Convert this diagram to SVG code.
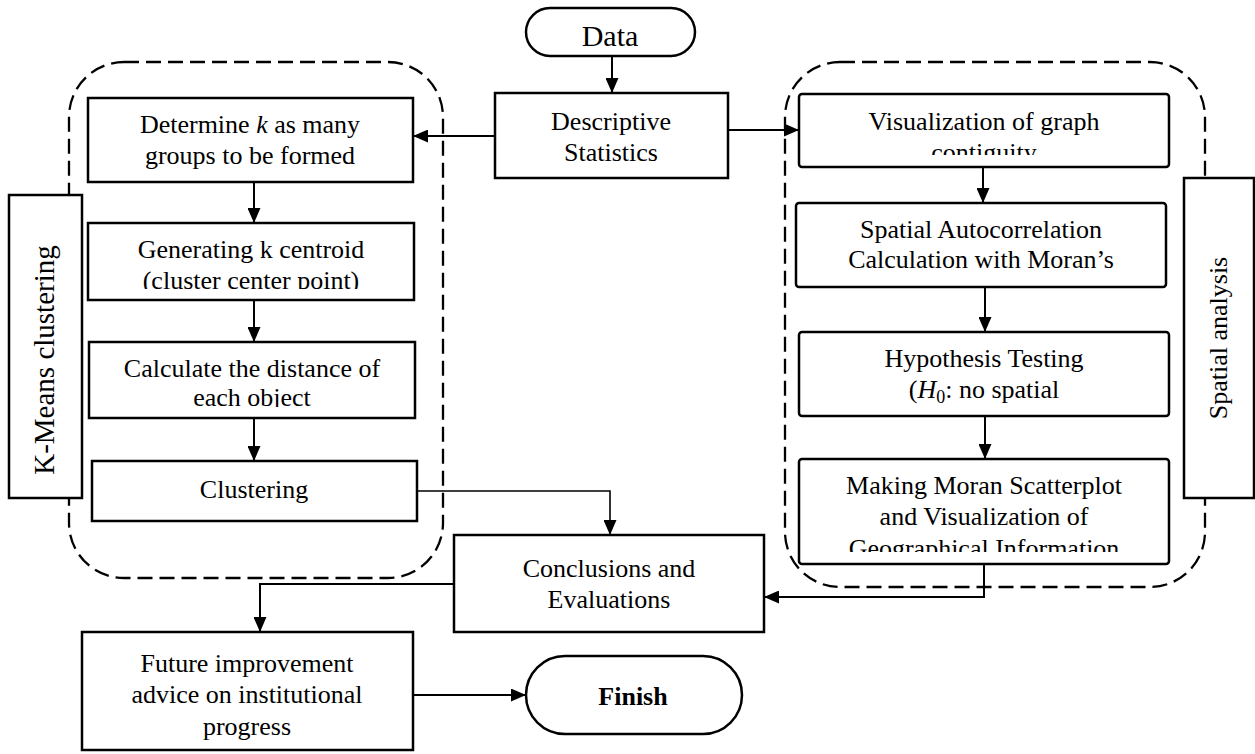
<svg xmlns="http://www.w3.org/2000/svg" width="1255" height="754" viewBox="0 0 1255 754">
<style>
.box{fill:#fff;stroke:#000;stroke-width:2.5}
.lbl{fill:#fff;stroke:#000;stroke-width:2.5}
.dash{fill:none;stroke:#000;stroke-width:2.3;stroke-dasharray:15 7}
.t{font-family:"Liberation Serif","Times New Roman",serif;font-size:26px;fill:#000;text-anchor:middle}
.c{fill:none;stroke:#000;stroke-width:2}
</style>
<defs>
<marker id="ah" markerUnits="userSpaceOnUse" markerWidth="15" markerHeight="13" refX="15" refY="6.5" orient="auto">
<path d="M0,0 L15,6.5 L0,13 z" fill="#000"/>
</marker>
<clipPath id="cpVis"><rect x="799" y="94" width="370" height="61"/></clipPath>
<clipPath id="cpGen"><rect x="88" y="223" width="326" height="66"/></clipPath>
<clipPath id="cpCalc"><rect x="89" y="342" width="326" height="65"/></clipPath>
<clipPath id="cpMak"><rect x="799" y="459" width="370" height="93"/></clipPath>
</defs>
<rect width="1255" height="754" fill="#fff"/>

<g id="data">
<rect x="526" y="8" width="169" height="48" rx="24" class="box"/>
<text x="610" y="46" class="t" style="font-size:30px">Data</text>
</g>
<g id="descriptive">
<rect x="495" y="93" width="233" height="85" class="box"/>
<text x="611" y="130" class="t">Descriptive</text>
<text x="611" y="161" class="t">Statistics</text>
</g>
<g id="determine">
<rect x="88" y="98" width="325" height="84" class="box"/>
<text x="250" y="133" class="t">Determine <tspan font-style="italic">k</tspan> as many</text>
<text x="250" y="164" class="t">groups to be formed</text>
</g>
<g id="generating">
<rect x="88" y="223" width="326" height="77" class="box"/>
<g clip-path="url(#cpGen)">
<text x="251" y="258" class="t">Generating k centroid</text>
<text x="251" y="289" class="t">(cluster center point)</text>
</g>
</g>
<g id="calculate">
<rect x="89" y="342" width="326" height="76" class="box"/>
<g clip-path="url(#cpCalc)">
<text x="252" y="377" class="t">Calculate the distance of</text>
<text x="252" y="406" class="t">each object</text>
</g>
</g>
<g id="clustering">
<rect x="92" y="461" width="325" height="60" class="box"/>
<text x="254" y="498" class="t">Clustering</text>
</g>
<g id="visualization">
<rect x="799" y="94" width="370" height="73" rx="3" class="box"/>
<g clip-path="url(#cpVis)">
<text x="984" y="130" class="t">Visualization of graph</text>
<text x="984" y="161" class="t">contiguity</text>
</g>
</g>
<g id="spatial-autocorrelation">
<rect x="796" y="203" width="370" height="84" rx="3" class="box"/>
<text x="981" y="238" class="t">Spatial Autocorrelation</text>
<text x="981" y="268" class="t">Calculation with Moran’s</text>
</g>
<g id="hypothesis">
<rect x="799" y="332" width="370" height="84" rx="3" class="box"/>
<text x="984" y="367" class="t">Hypothesis Testing</text>
<text x="984" y="398" class="t">(<tspan font-style="italic">H</tspan><tspan font-size="18" dy="5">0</tspan><tspan dy="-5">: no spatial</tspan></text>
</g>
<g id="making">
<rect x="799" y="459" width="370" height="105" rx="3" class="box"/>
<g clip-path="url(#cpMak)">
<text x="984" y="494" class="t">Making Moran Scatterplot</text>
<text x="984" y="525" class="t">and Visualization of</text>
<text x="984" y="557" class="t">Geographical Information</text>
</g>
</g>
<g id="conclusions">
<rect x="454" y="535" width="310" height="97" class="box"/>
<text x="609" y="577" class="t">Conclusions and</text>
<text x="609" y="608" class="t">Evaluations</text>
</g>
<g id="future">
<rect x="82" y="632" width="331" height="118" class="box"/>
<text x="247" y="672" class="t">Future improvement</text>
<text x="247" y="703" class="t">advice on institutional</text>
<text x="247" y="735" class="t">progress</text>
</g>
<g id="finish">
<rect x="526" y="656" width="216" height="78" rx="39" class="box"/>
<text x="633" y="705" class="t" style="font-weight:bold">Finish</text>
</g>

<g id="containers">
<rect x="69" y="62" width="374" height="516" rx="55" class="dash"/>
<rect x="785" y="62" width="420" height="525" rx="55" class="dash"/>
</g>

<g id="kmeans-label">
<rect x="9" y="195" width="73" height="303" class="lbl"/>
<text transform="translate(54,360) rotate(-90)" class="t" style="font-size:29px">K-Means clustering</text>
</g>
<g id="spatial-label">
<rect x="1184" y="178" width="70" height="320" class="lbl"/>
<text transform="translate(1227,338) rotate(-90)" class="t">Spatial analysis</text>
</g>

<g id="connectors">
<path d="M612,56 V93" class="c" marker-end="url(#ah)"/>
<path d="M495,136 H413" class="c" marker-end="url(#ah)"/>
<path d="M728,130 H799" class="c" marker-end="url(#ah)"/>
<path d="M254,182 V223" class="c" marker-end="url(#ah)"/>
<path d="M254,300 V342" class="c" marker-end="url(#ah)"/>
<path d="M254,418 V461" class="c" marker-end="url(#ah)"/>
<path d="M417,491 H610 V535" class="c" style="stroke-width:1.6" marker-end="url(#ah)"/>
<path d="M983,167 V203" class="c" marker-end="url(#ah)"/>
<path d="M985,287 V332" class="c" marker-end="url(#ah)"/>
<path d="M985,416 V459" class="c" marker-end="url(#ah)"/>
<path d="M984,564 V597 H764" class="c" marker-end="url(#ah)"/>
<path d="M454,584 H260 V632" class="c" marker-end="url(#ah)"/>
<path d="M413,695 H526" class="c" marker-end="url(#ah)"/>
</g>
</svg>
